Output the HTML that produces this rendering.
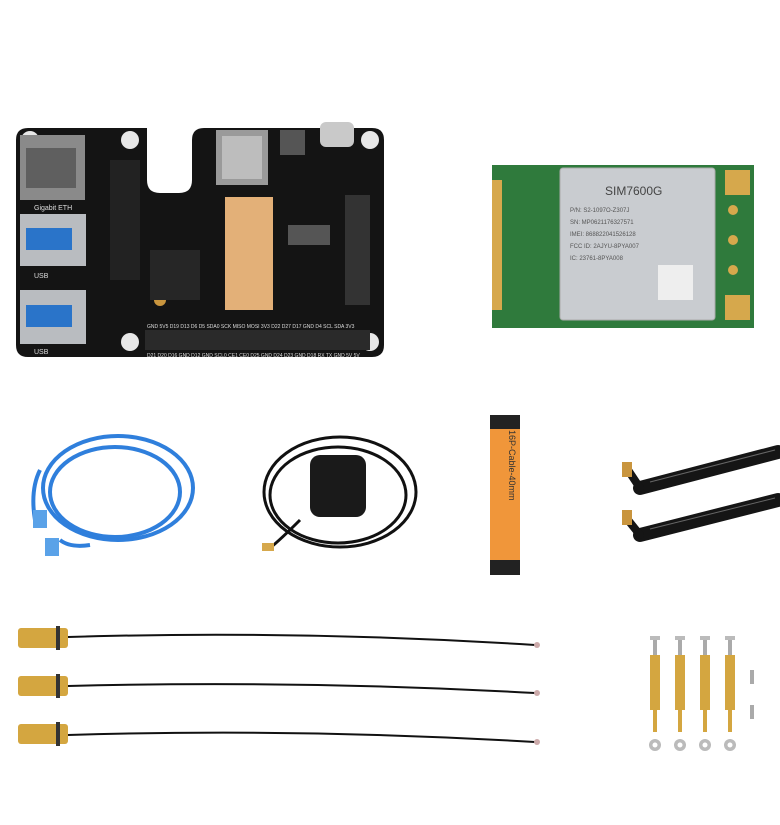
<!DOCTYPE html>
<html><head><style>html,body{margin:0;padding:0;background:#fff;width:780px;height:825px;overflow:hidden}</style></head>
<body>
<svg width="780" height="825" viewBox="0 0 780 825" xmlns="http://www.w3.org/2000/svg" font-family="Liberation Sans, sans-serif">
<rect width="780" height="825" fill="#fff"/>
<!-- HAT board -->
<path d="M28 128 H147 V180 Q147 193 160 193 H179 Q192 193 192 180 V140 Q192 128 204 128 H372 Q384 128 384 140 V345 Q384 357 372 357 H28 Q16 357 16 345 V140 Q16 128 28 128 Z" fill="#141414"/>
<circle cx="30" cy="140" r="9" fill="#e8e8e8"/><circle cx="130" cy="140" r="9" fill="#e8e8e8"/>
<circle cx="370" cy="140" r="9" fill="#e8e8e8"/><circle cx="130" cy="342" r="9" fill="#e8e8e8"/><circle cx="370" cy="342" r="9" fill="#e8e8e8"/>
<circle cx="160" cy="300" r="6" fill="#c9953e"/>
<rect x="20" y="135" width="65" height="65" fill="#8a8a8a"/><rect x="26" y="148" width="50" height="40" fill="#5f5f5f"/>
<text x="34" y="210" font-size="7" fill="#ddd">Gigabit ETH</text>
<rect x="20" y="214" width="66" height="52" fill="#b9bcc0"/><rect x="26" y="228" width="46" height="22" fill="#2a74c9"/>
<text x="34" y="278" font-size="7" fill="#ddd">USB</text>
<rect x="20" y="290" width="66" height="54" fill="#b9bcc0"/><rect x="26" y="305" width="46" height="22" fill="#2a74c9"/>
<text x="34" y="354" font-size="7" fill="#ddd">USB</text>
<rect x="216" y="130" width="52" height="55" fill="#9a9a9a"/><rect x="222" y="136" width="40" height="43" fill="#bdbdbd"/>
<rect x="280" y="130" width="25" height="25" fill="#555"/>
<rect x="320" y="122" width="34" height="25" rx="6" fill="#c9c9c9"/>
<rect x="225" y="197" width="48" height="113" fill="#e3b078"/>
<rect x="345" y="195" width="25" height="110" fill="#333"/>
<rect x="288" y="225" width="42" height="20" fill="#555"/>
<rect x="150" y="250" width="50" height="50" fill="#262626"/>
<rect x="110" y="160" width="30" height="120" fill="#222"/>
<rect x="145" y="330" width="225" height="20" fill="#2a2a2a"/>
<text x="147" y="328" font-size="5" fill="#ddd">GND 5V5 D19 D13 D6 D5 SDA0 SCK MISO MOSI 3V3 D22 D27 D17 GND D4 SCL SDA 3V3</text>
<text x="147" y="357" font-size="5" fill="#ddd">D21 D20 D16 GND D12 GND SCL0 CE1 CE0 D25 GND D24 D23 GND D18 RX TX GND 5V 5V</text>
<!-- SIM module -->
<rect x="492" y="165" width="262" height="163" fill="#2f7a3c"/>
<rect x="492" y="180" width="10" height="130" fill="#d6a84c"/>
<rect x="560" y="168" width="155" height="152" rx="3" fill="#c9ccd0" stroke="#aaa"/>
<text x="605" y="195" font-size="12" fill="#444">SIM7600G</text>
<text x="570" y="212" font-size="6" fill="#555">P/N: S2-1097O-Z307J</text>
<text x="570" y="224" font-size="6" fill="#555">SN: MP0621176327571</text>
<text x="570" y="236" font-size="6" fill="#555">IMEI: 868822041526128</text>
<text x="570" y="248" font-size="6" fill="#555">FCC ID: 2AJYU-8PYA007</text>
<text x="570" y="260" font-size="6" fill="#555">IC: 23761-8PYA008</text>
<rect x="658" y="265" width="35" height="35" fill="#eee"/>
<rect x="725" y="170" width="25" height="25" fill="#d6a84c"/><rect x="725" y="295" width="25" height="25" fill="#d6a84c"/>
<circle cx="733" cy="210" r="5" fill="#d6a84c"/><circle cx="733" cy="240" r="5" fill="#d6a84c"/><circle cx="733" cy="270" r="5" fill="#d6a84c"/>
<!-- Ethernet cable -->
<g fill="none" stroke="#2f7fdc" stroke-width="4">
<ellipse cx="118" cy="488" rx="75" ry="52"/><ellipse cx="115" cy="492" rx="65" ry="45"/>
<path d="M40 470 Q30 490 35 520"/><path d="M60 540 Q70 548 90 545"/>
</g>
<rect x="33" y="510" width="14" height="18" fill="#5aa2e8"/><rect x="45" y="538" width="14" height="18" fill="#5aa2e8"/>
<!-- GPS antenna -->
<g fill="none" stroke="#111" stroke-width="3">
<ellipse cx="340" cy="492" rx="76" ry="55"/><ellipse cx="338" cy="495" rx="68" ry="48"/>
<path d="M300 520 Q280 540 270 548"/>
</g>
<rect x="310" y="455" width="56" height="62" rx="10" fill="#1a1a1a"/>
<rect x="262" y="543" width="12" height="8" fill="#d6a84c"/>
<!-- FPC -->
<rect x="490" y="415" width="30" height="160" fill="#f0963a"/>
<rect x="490" y="415" width="30" height="14" fill="#222"/><rect x="490" y="560" width="30" height="15" fill="#222"/>
<text x="0" y="0" font-size="9" fill="#333" transform="translate(509,430) rotate(90)">16P-Cable-40mm</text>
<!-- LTE antennas -->
<g stroke="#151515" stroke-linecap="round">
<line x1="640" y1="488" x2="778" y2="452" stroke-width="14"/>
<line x1="640" y1="535" x2="778" y2="500" stroke-width="14"/>
<line x1="628" y1="470" x2="640" y2="488" stroke-width="8"/>
<line x1="628" y1="520" x2="640" y2="535" stroke-width="8"/>
</g>
<g stroke="#666" stroke-width="1"><line x1="650" y1="482" x2="775" y2="450"/><line x1="650" y1="529" x2="775" y2="498"/></g>
<rect x="622" y="462" width="10" height="15" fill="#c9953e"/><rect x="622" y="510" width="10" height="15" fill="#c9953e"/>
<!-- Pigtails -->
<g stroke="#111" stroke-width="2" fill="none">
<path d="M68 637 Q300 630 535 645"/><path d="M68 686 Q300 680 535 693"/><path d="M68 735 Q300 728 535 742"/>
</g>
<g fill="#d4a640">
<rect x="18" y="628" width="50" height="20" rx="3"/><rect x="18" y="676" width="50" height="20" rx="3"/><rect x="18" y="724" width="50" height="20" rx="3"/>
</g>
<g fill="#333"><rect x="56" y="626" width="4" height="24"/><rect x="56" y="674" width="4" height="24"/><rect x="56" y="722" width="4" height="24"/></g>
<circle cx="537" cy="645" r="3" fill="#caa"/><circle cx="537" cy="693" r="3" fill="#caa"/><circle cx="537" cy="742" r="3" fill="#caa"/>
<!-- standoffs -->
<g>
<rect x="650" y="655" width="10" height="55" fill="#d4a640"/><rect x="675" y="655" width="10" height="55" fill="#d4a640"/>
<rect x="700" y="655" width="10" height="55" fill="#d4a640"/><rect x="725" y="655" width="10" height="55" fill="#d4a640"/>
<rect x="653" y="638" width="4" height="17" fill="#aaa"/><rect x="678" y="638" width="4" height="17" fill="#aaa"/>
<rect x="703" y="638" width="4" height="17" fill="#aaa"/><rect x="728" y="638" width="4" height="17" fill="#aaa"/>
<rect x="650" y="636" width="10" height="4" fill="#bbb"/><rect x="675" y="636" width="10" height="4" fill="#bbb"/>
<rect x="700" y="636" width="10" height="4" fill="#bbb"/><rect x="725" y="636" width="10" height="4" fill="#bbb"/>
<rect x="653" y="710" width="4" height="22" fill="#d4a640"/><rect x="678" y="710" width="4" height="22" fill="#d4a640"/>
<rect x="703" y="710" width="4" height="22" fill="#d4a640"/><rect x="728" y="710" width="4" height="22" fill="#d4a640"/>
<circle cx="655" cy="745" r="6" fill="#bbb"/><circle cx="680" cy="745" r="6" fill="#bbb"/><circle cx="705" cy="745" r="6" fill="#bbb"/><circle cx="730" cy="745" r="6" fill="#bbb"/>
<circle cx="655" cy="745" r="2.5" fill="#fff"/><circle cx="680" cy="745" r="2.5" fill="#fff"/><circle cx="705" cy="745" r="2.5" fill="#fff"/><circle cx="730" cy="745" r="2.5" fill="#fff"/>
<rect x="750" y="670" width="4" height="14" fill="#aaa"/><rect x="750" y="705" width="4" height="14" fill="#aaa"/>
</g>
</svg>
</body></html>
